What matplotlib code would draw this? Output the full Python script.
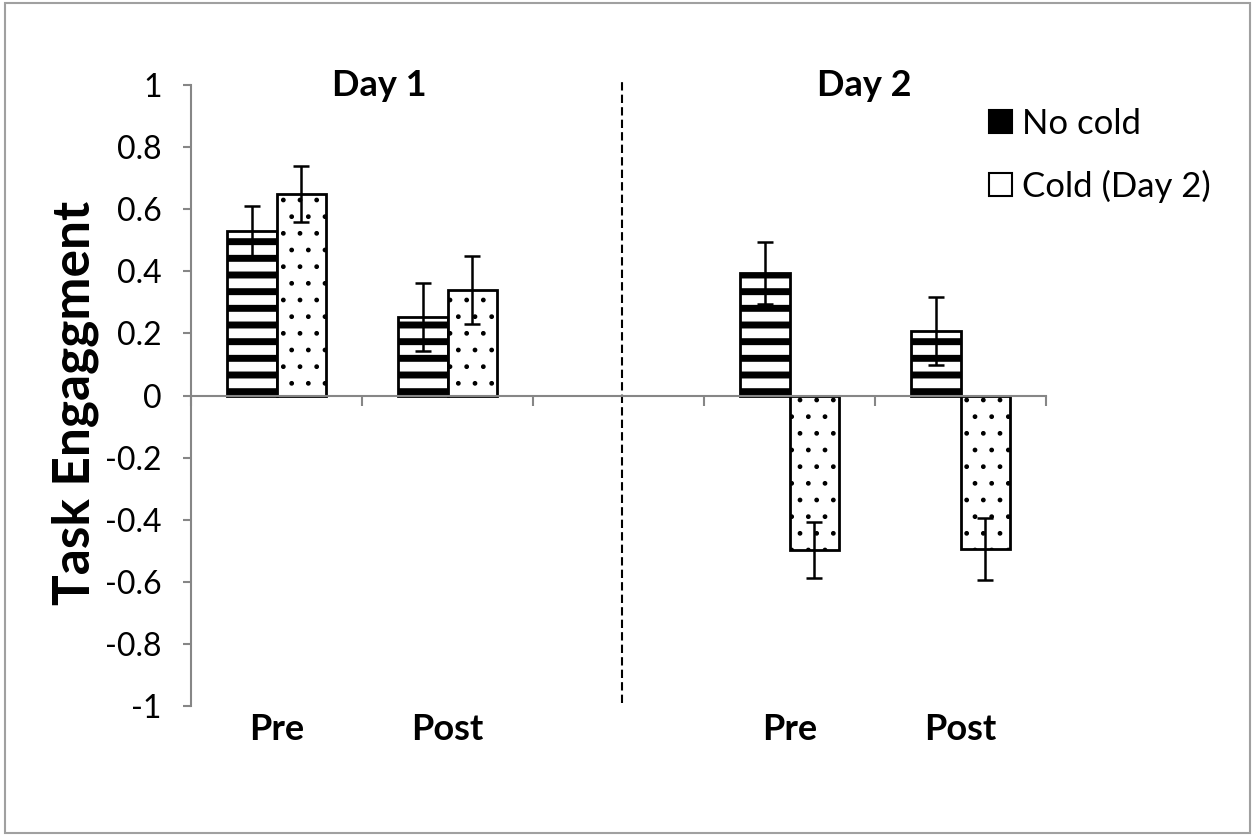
import numpy as np
import matplotlib
matplotlib.use('Agg')
import matplotlib.pyplot as plt
from matplotlib.patches import Rectangle, Patch
from matplotlib.ticker import FuncFormatter
import matplotlib.transforms as mtransforms

plt.rcParams['font.family'] = ['Lato', 'DejaVu Sans']
plt.rcParams['axes.unicode_minus'] = False

# 数据：Day 1 / Day 2 的 Pre、Post，中间空一格
categories = ['Pre', 'Post', '', 'Pre', 'Post']
no_cold = [0.53, 0.253, np.nan, 0.394, 0.208]
cold = [0.649, 0.340, np.nan, -0.498, -0.495]
no_cold_err = [0.08, 0.11, np.nan, 0.10, 0.11]
cold_err = [0.09, 0.11, np.nan, 0.09, 0.10]
series_names = ['No cold', 'Cold (Day 2)']
day_labels = ['Day 1', 'Day 2']
yticks = [1, 0.8, 0.6, 0.4, 0.2, 0, -0.2, -0.4, -0.6, -0.8, -1]

axis_grey = '#868686'

fig = plt.figure(figsize=(12.56, 8.35), dpi=100)
ax = fig.add_axes([191/1256, 1-706/835, (1046-191)/1256, (706-85)/835])

x = np.arange(len(categories))
w = 0.287

with plt.rc_context({'hatch.linewidth': 5.0}):
    b1 = ax.bar(x - w/2, no_cold, w, color='white', edgecolor='black',
                linewidth=2, hatch='-', zorder=2)
with plt.rc_context({'hatch.linewidth': 1.0}):
    b2 = ax.bar(x + w/2, cold, w, color='white', edgecolor='black',
                linewidth=2, hatch='.', zorder=2)

ax.errorbar(x - w/2, no_cold, yerr=no_cold_err, fmt='none', ecolor='black',
            elinewidth=1.8, capsize=6, capthick=1.8, zorder=3)
ax.errorbar(x + w/2, cold, yerr=cold_err, fmt='none', ecolor='black',
            elinewidth=1.8, capsize=6, capthick=1.8, zorder=3)

ax.set_xlim(-0.5, len(categories) - 0.5)
ax.set_ylim(-1, 1)

# 坐标轴样式（Excel 风格）
for s in ['top', 'right']:
    ax.spines[s].set_visible(False)
ax.spines['left'].set_color(axis_grey)
ax.spines['left'].set_linewidth(1.5)
ax.spines['bottom'].set_position(('data', 0))
ax.spines['bottom'].set_color(axis_grey)
ax.spines['bottom'].set_linewidth(1.5)

ax.set_yticks(yticks)
ax.yaxis.set_major_formatter(FuncFormatter(lambda v, p: '%g' % round(v, 1)))
ax.tick_params(axis='y', direction='out', length=6, width=1.5, color=axis_grey,
               pad=15, labelsize=23)
ax.set_xticks(np.arange(len(categories) + 1) - 0.5)
ax.set_xticklabels([])
ax.tick_params(axis='x', direction='out', length=7, width=1.5, color=axis_grey)

# 类别标签放在图底部
trans = mtransforms.blended_transform_factory(ax.transData, ax.transAxes)
for xi, lab in zip(x, categories):
    if lab:
        ax.text(xi, -0.012, lab, transform=trans, ha='center', va='top',
                fontsize=26, fontweight='bold')

ax.text(0.6, 1.0, day_labels[0], ha='center', va='center', fontsize=26, fontweight='bold')
ax.text(3.44, 1.0, day_labels[1], ha='center', va='center', fontsize=26, fontweight='bold')

# 分隔两天的虚线
ax.plot([2.02, 2.02], [-0.99, 1.01], color='black', lw=1.5, ls=(0, (4, 2)),
        clip_on=False, zorder=1)

fig.text(75/1256, 1-403/835, 'Task Engaggment', rotation=90, ha='center',
         va='center', fontsize=37, fontweight='bold')

# 图例色块
handles = [Patch(facecolor='black', edgecolor='black', linewidth=1.5),
           Patch(facecolor='white', edgecolor='black', linewidth=1.5)]
leg = ax.legend(handles, series_names, loc='upper left',
                bbox_to_anchor=(989/1256, 1-108/835), bbox_transform=fig.transFigure,
                frameon=False, fontsize=25, handlelength=0.65, handleheight=0.65,
                handletextpad=0.3, labelspacing=0.85, borderpad=0, borderaxespad=0)

# 图表外框
fig.patches.append(Rectangle((5/1256, 2/835), 1245/1256, 830/835,
                             transform=fig.transFigure, fill=False,
                             edgecolor='#a0a0a0', linewidth=1.5))

fig.savefig('out.png', dpi=100)
